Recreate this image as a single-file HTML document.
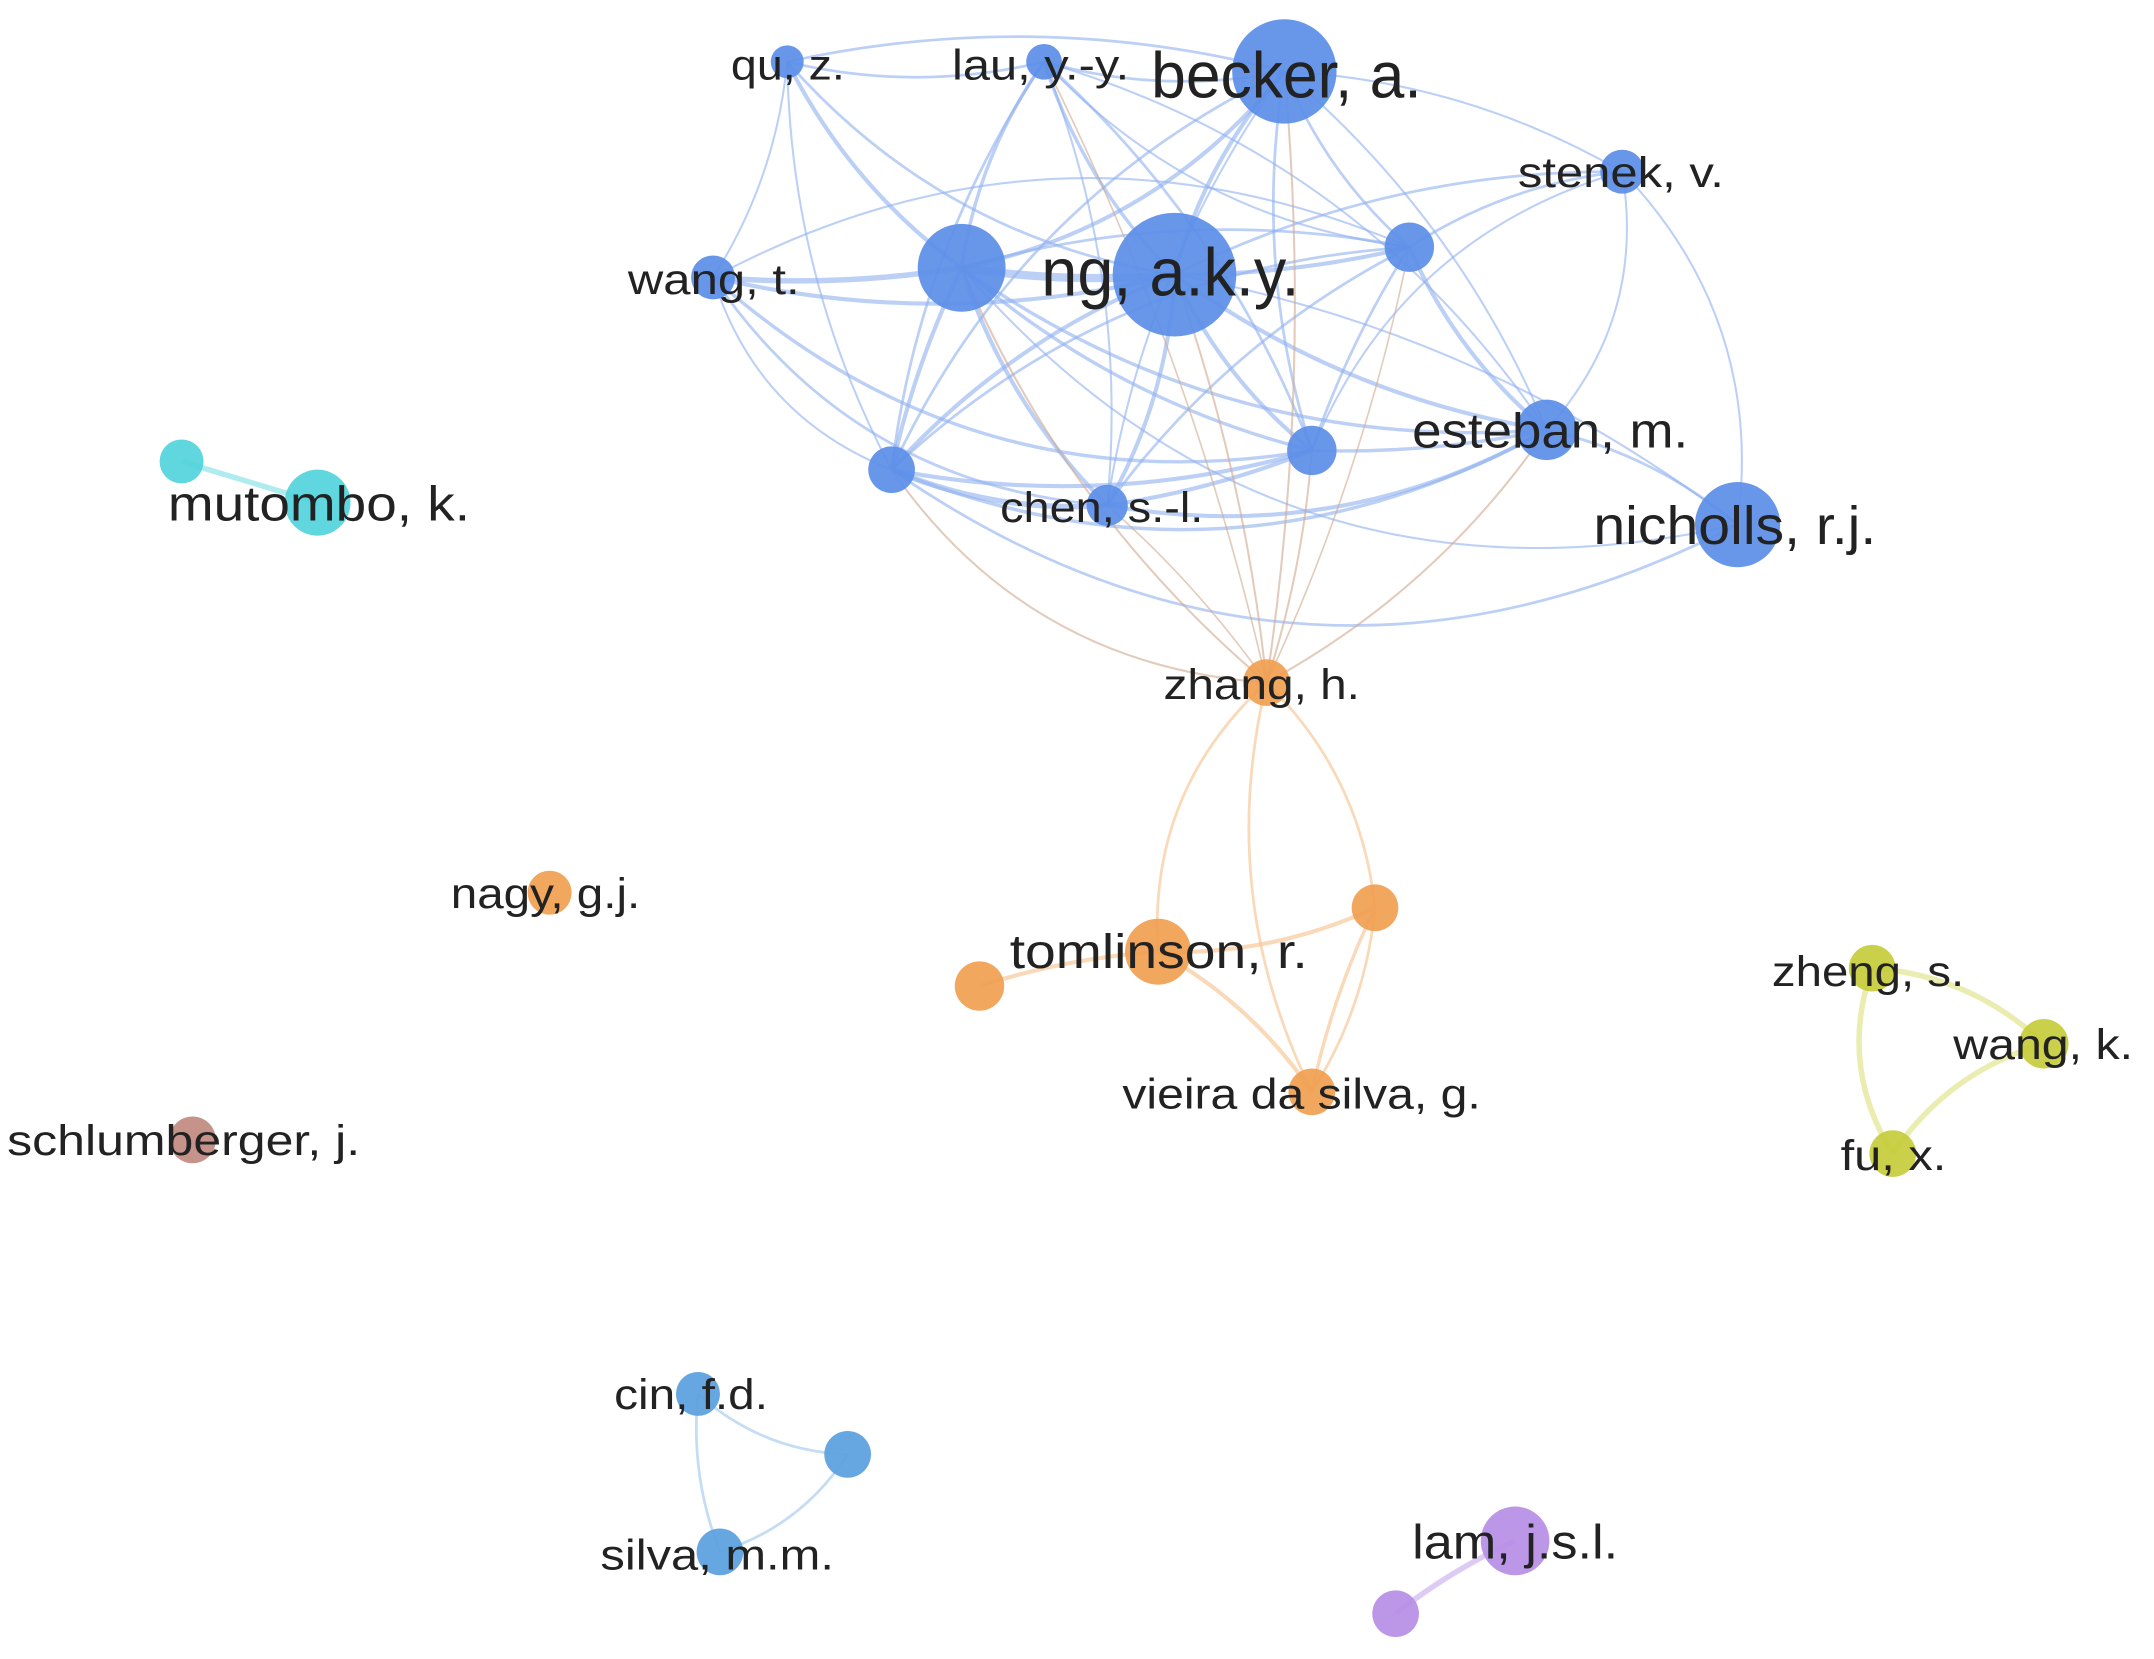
<!DOCTYPE html>
<html><head><meta charset="utf-8">
<style>html,body{margin:0;padding:0;background:#fff;}svg{display:block}
text{font-family:"Liberation Sans",sans-serif;fill:#222;}</style></head>
<body>
<svg id="s" width="2154" height="1659" viewBox="0 0 1568 1208" xmlns="http://www.w3.org/2000/svg">
<g id="edges" fill="none"></g>
<g id="nodes"></g>
<g id="labels">
<text x="532" y="58" font-size="31" textLength="83" lengthAdjust="spacingAndGlyphs">qu, z.</text>
<text x="693" y="58" font-size="31" textLength="129" lengthAdjust="spacingAndGlyphs">lau, y.-y.</text>
<text x="838" y="71" font-size="47" textLength="197" lengthAdjust="spacingAndGlyphs">becker, a.</text>
<text x="1105" y="136" font-size="31" textLength="150" lengthAdjust="spacingAndGlyphs">stenek, v.</text>
<text x="457" y="214" font-size="31" textLength="125" lengthAdjust="spacingAndGlyphs">wang, t.</text>
<text x="758" y="215" font-size="49" textLength="188" lengthAdjust="spacingAndGlyphs">ng, a.k.y.</text>
<text x="728" y="380" font-size="31" textLength="148" lengthAdjust="spacingAndGlyphs">chen, s.-l.</text>
<text x="1028" y="326" font-size="36" textLength="201" lengthAdjust="spacingAndGlyphs">esteban, m.</text>
<text x="1160" y="396" font-size="39" textLength="206" lengthAdjust="spacingAndGlyphs">nicholls, r.j.</text>
<text x="122" y="379" font-size="36" textLength="220" lengthAdjust="spacingAndGlyphs">mutombo, k.</text>
<text x="847" y="509" font-size="31" textLength="143" lengthAdjust="spacingAndGlyphs">zhang, h.</text>
<text x="328" y="661" font-size="31" textLength="138" lengthAdjust="spacingAndGlyphs">nagy, g.j.</text>
<text x="735" y="705" font-size="35" textLength="217" lengthAdjust="spacingAndGlyphs">tomlinson, r.</text>
<text x="817" y="807" font-size="31" textLength="261" lengthAdjust="spacingAndGlyphs">vieira da silva, g.</text>
<text x="1290" y="718" font-size="31" textLength="140" lengthAdjust="spacingAndGlyphs">zheng, s.</text>
<text x="1422" y="771" font-size="31" textLength="131" lengthAdjust="spacingAndGlyphs">wang, k.</text>
<text x="1340" y="852" font-size="31" textLength="77" lengthAdjust="spacingAndGlyphs">fu, x.</text>
<text x="5" y="841" font-size="31" textLength="257" lengthAdjust="spacingAndGlyphs">schlumberger, j.</text>
<text x="447" y="1026" font-size="31" textLength="112" lengthAdjust="spacingAndGlyphs">cin, f.d.</text>
<text x="437" y="1143" font-size="31" textLength="170" lengthAdjust="spacingAndGlyphs">silva, m.m.</text>
<text x="1028" y="1135" font-size="35" textLength="150" lengthAdjust="spacingAndGlyphs">lam, j.s.l.</text>
</g>
</svg>
<script>
var N={qu:[573,45,12,'b'],lau:[760,45,13,'b'],becker:[935,52,38,'b'],stenek:[1181,125,16,'b'],
wangt:[519,202,16,'b'],big:[700,195,32,'b'],ng:[855,200,45,'b'],r1:[1026,180,18,'b'],
l1:[649,342,17,'b'],chen:[806,368,15,'b'],m1:[955,328,18,'b'],esteban:[1126,313,22,'b'],
nicholls:[1265,382,31,'b'],mu1:[132,336,16,'c'],mu2:[231,366,24,'c'],zhang:[922,497,17,'o'],
nagy:[400,650,16,'o'],o1:[1001,661,17,'o'],tom:[843,693,24,'o'],o2:[713,718,18,'o'],
vieira:[955,795,17,'o'],zheng:[1363,705,17,'y'],wangk:[1488,760,18,'y'],fu:[1378,840,17,'y'],
sch:[140,830,17,'r'],cin:[508,1015,16,'l'],c2:[617,1059,17,'l'],silva:[524,1130,17,'l'],
lam:[1103,1122,25,'p'],p2:[1016,1175,17,'p']};
var C={b:'#5b8ee8',c:'#52d2dc',o:'#f0a050',y:'#c6cc3a',r:'#c08a80',l:'#5aa0de',p:'#b68ee6'};
var EC={b:'#8fb0f0',c:'#7adde4',o:'#f7bf8a',y:'#dde07a',r:'#c08a80',l:'#9cc4ec',p:'#c8a8ee',x:'#d0a890'};
var E=[['qu','lau',2,0.1],['qu','big',3,0.1],['qu','ng',2,0.15],['qu','wangt',1.5,-0.1],['qu','l1',1.5,0.1],['qu','becker',2,-0.1],
['lau','big',2.5,0.1],['lau','ng',2.5,0.1],['lau','becker',2,0.1],['lau','l1',2,0.1],['lau','chen',1.5,-0.1],['lau','m1',2,-0.1],['lau','r1',1.5,0.15],['lau','esteban',1.5,-0.15],
['becker','ng',3,0.1],['becker','big',3,-0.15],['becker','r1',2,0.1],['becker','m1',2,0.1],['becker','esteban',1.5,-0.1],['becker','chen',1.5,0.1],['becker','l1',2,0.15],['becker','stenek',1.5,-0.1],
['wangt','big',4,0.05],['wangt','ng',3,0.1],['wangt','l1',1.5,0.2],['wangt','m1',2.5,0.2],['wangt','r1',1.5,-0.2],['wangt','chen',2,0.2],
['big','ng',6,0.05],['big','l1',3,0.05],['big','chen',3,0.1],['big','m1',2.5,0.1],['big','r1',2,-0.1],['big','esteban',2.5,0.15],['big','nicholls',1.5,0.25],
['ng','r1',3,0.05],['ng','m1',3,0.1],['ng','chen',3,-0.1],['ng','l1',3,0.1],['ng','esteban',3,0.1],['ng','stenek',2,-0.1],['ng','nicholls',1.5,-0.1],
['r1','stenek',2,-0.1],['r1','esteban',3,0.1],['r1','m1',2,0.05],['r1','l1',2,0.15],['r1','chen',2,0.1],
['l1','chen',4,0.1],['l1','m1',3,0.1],['l1','esteban',2.5,0.2],['l1','nicholls',2,0.25],
['chen','m1',3,0.05],['chen','esteban',3,0.15],['m1','esteban',2.5,0.05],['esteban','nicholls',2,-0.1],['esteban','stenek',1.5,0.2],['stenek','nicholls',1.5,-0.2],['stenek','m1',1.5,0.2],
['zhang','ng',1.5,0.05,'x'],['zhang','big',1.5,-0.1,'x'],['zhang','becker',1.5,0.05,'x'],['zhang','lau',1.2,0.05,'x'],['zhang','m1',1.5,0.05,'x'],['zhang','esteban',1.5,0.1,'x'],['zhang','r1',1.2,0.05,'x'],['zhang','chen',1.2,0.05,'x'],['zhang','l1',1.5,-0.2,'x'],
['zhang','tom',2,0.2,'o'],['zhang','o1',2,-0.15,'o'],['zhang','vieira',2,0.15,'o'],['tom','o1',3,0.1,'o'],['tom','o2',3,0.05,'o'],['tom','vieira',3,-0.1,'o'],['o1','vieira',2.5,0.05,'o'],['o1','vieira',2,-0.1,'o'],
['mu1','mu2',4,0,'c'],['zheng','wangk',4,-0.15,'y'],['zheng','fu',4,0.2,'y'],['wangk','fu',4,0.15,'y'],
['cin','c2',2,0.15,'l'],['cin','silva',2,0.1,'l'],['c2','silva',2,-0.15,'l'],['lam','p2',4,0.05,'p']];
var ns='http://www.w3.org/2000/svg',eg=document.getElementById('edges'),ng=document.getElementById('nodes');
E.forEach(function(e){var a=N[e[0]],b=N[e[1]],mx=(a[0]+b[0])/2,my=(a[1]+b[1])/2,dx=b[0]-a[0],dy=b[1]-a[1];
var cx=mx-dy*e[3]*1.2,cy=my+dx*e[3]*1.2;var p=document.createElementNS(ns,'path');
p.setAttribute('d','M'+a[0]+' '+a[1]+'Q'+cx+' '+cy+' '+b[0]+' '+b[1]);
p.setAttribute('stroke',EC[e[4]||a[3]]);p.setAttribute('stroke-width',e[2]);p.setAttribute('stroke-opacity',0.6);eg.appendChild(p);});
for(var k in N){var n=N[k],c=document.createElementNS(ns,'circle');c.setAttribute('cx',n[0]);c.setAttribute('cy',n[1]);c.setAttribute('r',n[2]);c.setAttribute('fill',C[n[3]]);c.setAttribute('fill-opacity',0.92);ng.appendChild(c);}
</script>
</body></html>
